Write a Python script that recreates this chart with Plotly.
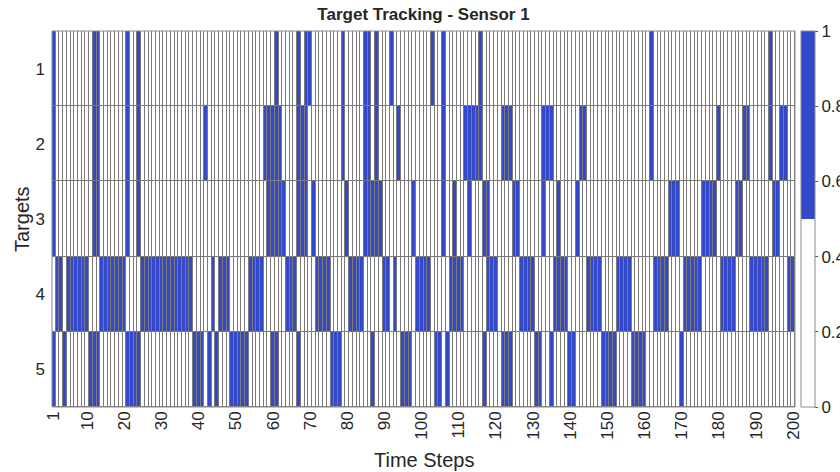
import numpy as np
import plotly.graph_objects as go

# Time steps at which each target is being tracked by sensor 1
target1_on = [1, 12, 13, 21, 24, 61, 67, 69, 70, 79, 85, 86, 88, 92, 103, 106, 116, 162, 194]
target2_on = [1, 12, 13, 21, 24, 42, 58, 59, 60, 61, 62, 67, 68, 69, 79, 85, 86, 88, 94, 106,
              112, 113, 114, 115, 116, 122, 123, 124, 133, 134, 135, 143, 144, 162, 180, 187,
              188, 194, 197, 198]
target3_on = [1, 12, 13, 21, 24, 59, 60, 61, 62, 63, 67, 68, 69, 71, 80, 85, 86, 87, 88, 89,
              98, 106, 109, 113, 117, 118, 125, 126, 133, 137, 142, 167, 168, 169, 176, 177,
              178, 179, 185, 186, 195, 196]
target4_on = [2, 3, 5, 6, 7, 8, 9, 10, 14, 15, 16, 17, 18, 19, 20, 25, 26, 27, 28, 29, 30, 31,
              32, 33, 34, 35, 36, 37, 38, 44, 46, 47, 48, 54, 55, 56, 57, 64, 65, 66, 72, 73,
              74, 75, 81, 82, 83, 84, 90, 91, 93, 99, 100, 101, 102, 108, 109, 110, 111, 118,
              119, 120, 127, 128, 129, 130, 136, 137, 138, 139, 145, 146, 147, 148, 153, 154,
              155, 156, 163, 164, 165, 166, 171, 172, 173, 174, 175, 181, 182, 183, 184, 189,
              190, 191, 192, 193, 199, 200]
target5_on = [1, 4, 11, 12, 13, 21, 22, 23, 24, 39, 40, 41, 43, 45, 49, 50, 51, 52, 53, 60, 61,
              67, 76, 77, 78, 87, 95, 96, 97, 104, 105, 107, 117, 122, 123, 124, 131, 132, 135,
              140, 141, 149, 150, 151, 152, 157, 158, 159, 160, 170]

n_steps = 200
time_steps = list(range(1, n_steps + 1))
targets = [1, 2, 3, 4, 5]
x_tick_vals = [1, 10, 20, 30, 40, 50, 60, 70, 80, 90, 100, 110, 120, 130, 140, 150, 160,
               170, 180, 190, 200]
cbar_ticks = [0, 0.2, 0.4, 0.6, 0.8, 1]

BLUE = "#3349C9"
GRID = "#7a7a7a"
TEXT = "#262626"
FONT = "Liberation Sans, Arial, sans-serif"

z = np.zeros((len(targets), n_steps))
for row, on in enumerate([target1_on, target2_on, target3_on, target4_on, target5_on]):
    for t in on:
        z[row, t - 1] = 1

fig = go.Figure(
    go.Heatmap(
        z=z,
        x=time_steps,
        y=targets,
        zmin=0,
        zmax=1,
        xgap=1,
        ygap=1,
        colorscale=[[0, "white"], [0.5, "white"], [0.5, BLUE], [1, BLUE]],
        colorbar=dict(
            x=1.008,
            xanchor="left",
            xpad=0,
            ypad=0,
            y=0.5,
            yanchor="middle",
            len=1,
            lenmode="fraction",
            thickness=14,
            thicknessmode="pixels",
            outlinewidth=1,
            outlinecolor="#8c8c8c",
            tickvals=cbar_ticks,
            ticktext=["0", "0.2", "0.4", "0.6", "0.8", "1"],
            ticks="outside",
            ticklen=3,
            tickcolor="#555",
            tickfont=dict(family=FONT, size=17, color=TEXT),
        ),
        hovertemplate="Time %{x}<br>Target %{y}<br>%{z}<extra></extra>",
    )
)

fig.update_layout(
    width=840,
    height=472,
    margin=dict(l=52, r=45, t=31, b=65, autoexpand=False),
    paper_bgcolor="white",
    plot_bgcolor=GRID,
    font=dict(family=FONT, size=17, color=TEXT),
    title=dict(
        text="<b>Target Tracking - Sensor 1</b>",
        x=0.5,
        xref="paper",
        xanchor="center",
        y=1 - 14 / 472,
        yref="container",
        yanchor="middle",
        font=dict(family=FONT, size=17, color=TEXT),
    ),
    xaxis=dict(
        range=[0.5, n_steps + 0.5],
        tickvals=x_tick_vals,
        tickangle=-90,
        ticks="",
        showgrid=False,
        zeroline=False,
        tickfont=dict(size=17, color=TEXT),
    ),
    yaxis=dict(
        range=[5.5, 0.5],
        tickvals=targets,
        ticks="",
        ticklabelstandoff=6,
        showgrid=False,
        zeroline=False,
        tickfont=dict(size=17, color=TEXT),
    ),
    annotations=[
        dict(text="Time Steps", x=0.5, y=-(460 - 407) / 376, xref="paper", yref="paper",
             showarrow=False, xanchor="center", yanchor="middle",
             font=dict(family=FONT, size=20, color=TEXT)),
        dict(text="Targets", x=(22 - 52) / 743, y=0.5, xref="paper", yref="paper",
             showarrow=False, textangle=-90, xanchor="center", yanchor="middle",
             font=dict(family=FONT, size=20, color=TEXT)),
    ],
    shapes=[
        dict(type="rect", xref="paper", yref="paper", x0=0, x1=1, y0=0, y1=1,
             line=dict(color="#8c8c8c", width=1), fillcolor="rgba(0,0,0,0)"),
    ],
)

fig.write_html("out.html")
